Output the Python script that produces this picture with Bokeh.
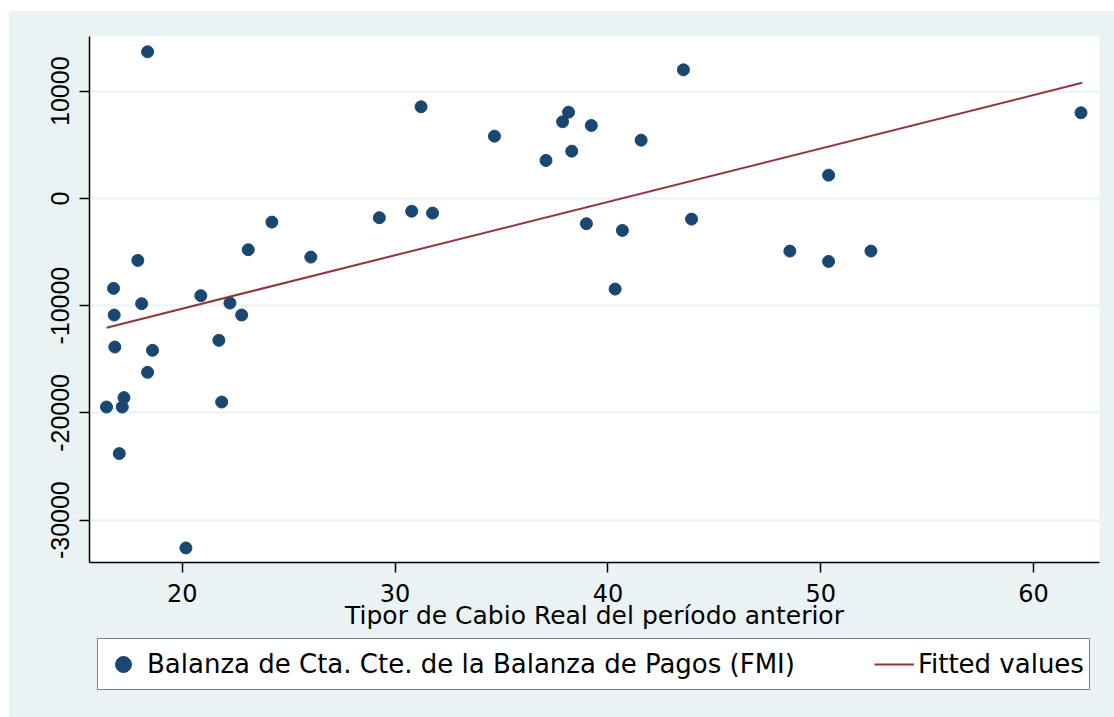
from bokeh.plotting import figure
from bokeh.models import Legend, LegendItem, FixedTicker, Range1d, Spacer
from bokeh.layouts import column, row
from bokeh.embed import file_html
from bokeh.resources import INLINE

# Tipo de cambio real del período anterior
tcr = [16.44, 16.77, 16.80, 16.83, 17.04, 17.18, 17.26, 17.91, 18.09, 18.37,
       18.37, 18.60, 20.17, 20.87, 21.72, 21.85, 22.24, 22.79, 23.10, 24.21,
       26.04, 29.26, 30.78, 31.22, 31.76, 34.67, 37.09, 37.87, 38.15, 38.30,
       38.99, 39.22, 40.34, 40.68, 41.56, 43.55, 43.93, 48.55, 50.37, 50.37,
       52.36, 62.23]
# Balanza de Cta. Cte. (FMI)
balanza = [-19451, -8388, -10876, -13858, -23794, -19451, -18575, -5778, -9814, 13672,
           -16217, -14166, -32592, -9068, -13234, -18985, -9758, -10876, -4781, -2209,
           -5471, -1799, -1193, 8546, -1370, 5806, 3542, 7148, 8043, 4408,
           -2358, 6804, -8453, -2982, 5434, 11995, -1929, -4912, 2172, -5872,
           -4912, 7987]
# Fitted values (endpoints of the regression line)
fit_x = [16.44, 62.29]
fit_y = [-12051, 10783]

x_ticks = [20, 30, 40, 50, 60]
y_ticks = [-30000, -20000, -10000, 0, 10000]

series_labels = ["Balanza de Cta. Cte. de la Balanza de Pagos (FMI)", "Fitted values"]

FONT = "DejaVu Sans"
BG = "#eaf2f3"
DOT = "#1a476f"
FIT = "#90353b"

p = figure(frame_width=1010, frame_height=526, output_backend="svg", toolbar_location=None,
           x_range=Range1d(15.64, 63.1), y_range=Range1d(-33950, 15100),
           min_border_left=80, min_border_right=15, min_border_top=25, min_border_bottom=76)

p.border_fill_color = BG
p.background_fill_color = "white"
p.outline_line_color = None

sc = p.scatter(tcr, balanza, size=12, marker="circle", fill_color=DOT, line_color=DOT)
ln = p.line(fit_x, fit_y, line_color=FIT, line_width=2)

# axes
p.xaxis.ticker = FixedTicker(ticks=x_ticks)
p.yaxis.ticker = FixedTicker(ticks=y_ticks)
p.yaxis.major_label_overrides = {t: str(t) for t in y_ticks}
for ax in (p.xaxis[0], p.yaxis[0]):
    ax.axis_line_color = "black"
    ax.axis_line_width = 1.5
    ax.major_tick_line_color = "black"
    ax.major_tick_line_width = 1.5
    ax.major_tick_out = 10
    ax.major_tick_in = 0
    ax.minor_tick_line_color = None
    ax.major_label_text_color = "black"

p.xaxis.major_label_text_font = FONT
p.xaxis.major_label_text_font_size = "24px"
p.xaxis.major_label_standoff = 11
p.xaxis.axis_label = "Tipor de Cabio Real del período anterior"
p.xaxis.axis_label_text_font = FONT
p.xaxis.axis_label_text_font_size = "25px"
p.xaxis.axis_label_text_font_style = "normal"
p.xaxis.axis_label_text_color = "black"
p.xaxis.axis_label_standoff = -4

p.yaxis.major_label_text_font = "Liberation Sans"
p.yaxis.major_label_text_font_size = "25px"
p.yaxis.major_label_orientation = "vertical"
p.yaxis.major_label_standoff = 10

p.xgrid.grid_line_color = None
p.ygrid.grid_line_color = BG
p.ygrid.grid_line_width = 2

# legend strip below the plot (its frame is aligned with the plot frame by the column)
lg = figure(width=1105, height=79, output_backend="svg", toolbar_location=None,
            x_axis_type=None, y_axis_type=None,
            x_range=Range1d(0, 1), y_range=Range1d(0, 1),
            min_border_left=0, min_border_right=0, min_border_top=0, min_border_bottom=0)
lg.border_fill_color = BG
lg.background_fill_color = BG
lg.outline_line_color = None
lg.grid.grid_line_color = None
# key renderers (same data, lying outside this strip's view; only their legend glyphs show)
key_sc = lg.scatter(tcr, balanza, size=12, marker="circle", fill_color=DOT, line_color=DOT)
key_ln = lg.line(fit_x, fit_y, line_color=FIT, line_width=2)

legend = Legend(items=[
    LegendItem(label=series_labels[0], renderers=[key_sc]),
    LegendItem(label=series_labels[1], renderers=[key_ln]),
], orientation="horizontal", location=(8, 27),
    glyph_width=40, glyph_height=40, label_standoff=4, spacing=79,
    padding=5, margin=0,
    border_line_color="black", border_line_width=1,
    background_fill_color="white",
    label_text_font=FONT, label_text_font_size="26px", label_text_color="black")
lg.add_layout(legend, "center")

panel = column(p, lg, spacing=0, styles={"background-color": BG})
layout = column(Spacer(height=11), row(Spacer(width=9), panel), spacing=0)
open("out.html", "w").write(file_html(layout, INLINE))
